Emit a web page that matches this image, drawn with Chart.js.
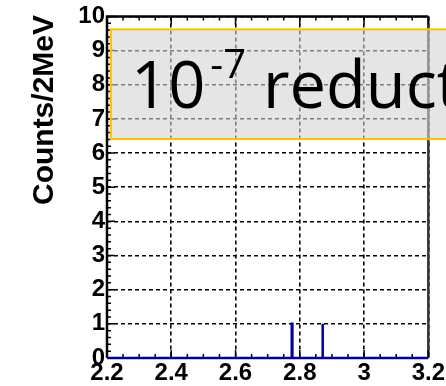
<!DOCTYPE html>
<html>
<head>
<meta charset="utf-8">
<script src="https://cdn.jsdelivr.net/npm/chart.js@4.4.1/dist/chart.umd.min.js"></script>
<style>
  html, body { margin: 0; padding: 0; background: #fff; }
  #wrap { width: 446px; height: 386px; }
</style>
</head>
<body>
<div id="wrap"><canvas id="chart" width="446" height="386"></canvas></div>
<script>
// histogram: events (GeV) with one count in a 2 MeV bin
var hitMass = [2.775, 2.870];
var hitCount = [1, 1];
var binWidth = 0.002;
var xRange = [2.2, 3.2];
var yRange = [0, 10];
var xTicks = [2.2, 2.4, 2.6, 2.8, 3.0, 3.2];
var xTickLabels = ['2.2', '2.4', '2.6', '2.8', '3', '3.2'];
var yTicks = [0, 1, 2, 3, 4, 5, 6, 7, 8, 9, 10];
var yLabel = 'Counts/2MeV';
var boxText = ['10', '-7', ' reduct'];

// step line from the bins
var pts = [{x: xRange[0], y: 0}];
hitMass.forEach(function (m, i) {
    pts.push({x: m, y: 0}, {x: m, y: hitCount[i]},
             {x: m + binWidth, y: hitCount[i]}, {x: m + binWidth, y: 0});
});
pts.push({x: xRange[1], y: 0});

var tickFont = {family: 'Liberation Sans', size: 24, weight: 'bold'};

var decor = {
    id: 'decor',
    beforeDatasetsDraw: function (chart) {
        var c = chart.ctx, a = chart.chartArea;
        c.save();
        c.strokeStyle = '#000';
        c.lineWidth = 2.5;
        c.beginPath();
        c.moveTo(a.left, a.bottom); c.lineTo(a.left, a.top);
        c.lineTo(a.right, a.top);
        c.stroke();
        c.strokeStyle = '#333';
        c.beginPath();
        c.moveTo(a.right, a.top); c.lineTo(a.right, a.bottom);
        c.stroke();
        // inner ticks
        var xs = chart.scales.x, ys = chart.scales.y, v, p, len;
        c.strokeStyle = '#000';
        c.lineWidth = 1.5;
        c.beginPath();
        for (v = 0; v <= 20; v++) {
            p = xs.getPixelForValue(xRange[0] + v * 0.05);
            len = (v % 4 === 0) ? 8 : 4;
            c.moveTo(p, a.bottom); c.lineTo(p, a.bottom - len);
            c.moveTo(p, a.top); c.lineTo(p, a.top + len);
        }
        for (v = 0; v <= 50; v++) {
            p = ys.getPixelForValue(v * 0.2);
            len = (v % 5 === 0) ? 8 : 4;
            c.moveTo(a.left, p); c.lineTo(a.left + len, p);
        }
        c.stroke();
        c.restore();
    },
    afterDraw: function (chart) {
        var c = chart.ctx, a = chart.chartArea;
        var ys = chart.scales.y, xs = chart.scales.x;
        c.save();
        // overlay box
        var bx = xs.getPixelForValue(2.212), by1 = ys.getPixelForValue(9.62), by2 = ys.getPixelForValue(6.41);
        c.fillStyle = 'rgba(212,212,212,0.6)';
        c.fillRect(bx, by1, 446 - bx + 5, by2 - by1);
        c.strokeStyle = '#ffc000';
        c.lineWidth = 2;
        c.strokeRect(bx, by1, 446 - bx + 5, by2 - by1);
        c.fillStyle = '#000';
        c.textBaseline = 'alphabetic';
        c.font = '65px "Open Sans"';
        var tx = 131, base = 108;
        c.fillText(boxText[0], tx, base);
        tx += c.measureText(boxText[0]).width;
        c.font = '40px "Open Sans"';
        c.fillText(boxText[1], tx + 5, 78);
        tx += c.measureText(boxText[1]).width + 5;
        c.font = '65px "Open Sans"';
        c.fillText(boxText[2], tx, base);
        // y title
        c.translate(45, 110);
        c.rotate(-Math.PI / 2);
        c.font = 'bold 30px "Liberation Sans"';
        c.textAlign = 'center';
        c.textBaseline = 'middle';
        c.fillText(yLabel, 0, 0);
        c.restore();
    }
};

new Chart(document.getElementById('chart'), {
    type: 'line',
    data: {
        datasets: [{
            data: pts,
            borderColor: '#0000a0',
            borderWidth: 2.5,
            pointRadius: 0,
            tension: 0,
            fill: false,
            clip: false
        }]
    },
    options: {
        responsive: false,
        animation: false,
        events: [],
        layout: {padding: {top: 16, right: 16, left: 0, bottom: 0}},
        plugins: {legend: {display: false}, tooltip: {enabled: false}},
        scales: {
            x: {
                type: 'linear', min: xRange[0], max: xRange[1],
                afterBuildTicks: function (s) { s.ticks = xTicks.map(function (v) { return {value: v}; }); },
                afterFit: function (s) { s.height = 28; },
                ticks: {
                    font: tickFont, color: '#000', padding: 1, maxRotation: 0, autoSkip: false,
                    callback: function (v, i) { return xTickLabels[i]; }
                },
                grid: {color: '#000', lineWidth: 1.6, drawTicks: false},
                border: {display: false, dash: [4, 3]}
            },
            y: {
                type: 'linear', min: yRange[0], max: yRange[1],
                afterBuildTicks: function (s) { s.ticks = yTicks.map(function (v) { return {value: v}; }); },
                afterFit: function (s) { s.width = 107; },
                ticks: {font: tickFont, color: '#000', padding: 2, autoSkip: false},
                grid: {color: '#000', lineWidth: 1.6, drawTicks: false},
                border: {display: false, dash: [4, 3]}
            }
        }
    },
    plugins: [decor]
});
</script>
</body>
</html>
